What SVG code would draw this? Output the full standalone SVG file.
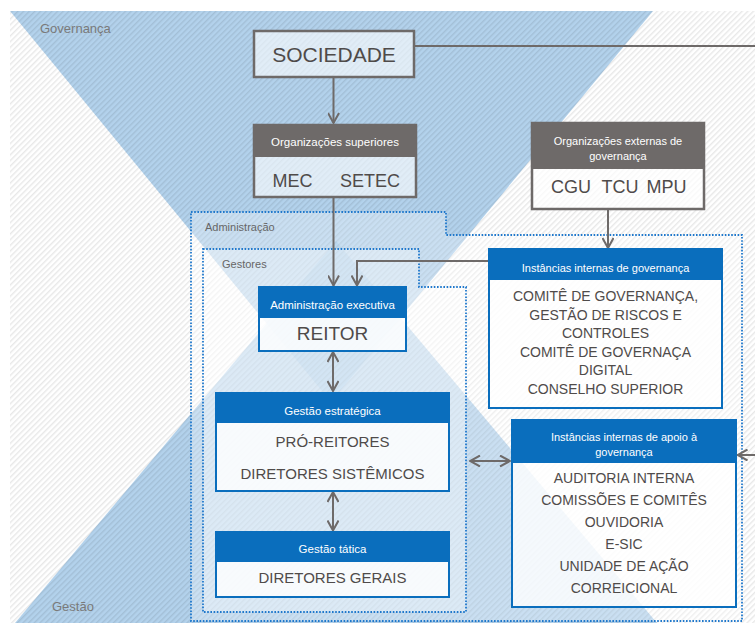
<svg xmlns="http://www.w3.org/2000/svg" width="755" height="623" viewBox="0 0 755 623">
<style>
text{font-family:"Liberation Sans",Arial,sans-serif}
.lbl{fill:#666;font-size:11px}
.big{fill:#7a7a7a;font-size:13px}
.hd{fill:#fff;font-size:11.5px;text-anchor:middle}
.hs{fill:#fff;font-size:11px;text-anchor:middle}
.bd{fill:#4f4b4a;text-anchor:middle}
.gbox{stroke:#6e6a69;stroke-width:2.5}
.bbox{stroke:#0a6ebd;stroke-width:2}
.ghead{fill:#6e6a69}
.bhead{fill:#0a6ebd}
.body{fill:#fff;fill-opacity:.8}
.dot{fill:#fff;stroke:#1f78cc;stroke-width:1.8;stroke-dasharray:1.6 1.6}
.con{fill:none;stroke:#6e6a69;stroke-width:2}
</style>
<defs>
<pattern id="hatch" width="4" height="4" patternUnits="userSpaceOnUse" patternTransform="rotate(45)">
<rect x="0" y="0" width="1.4" height="4" fill="#000" fill-opacity=".09"/>
</pattern>
<marker id="ah" viewBox="0 0 12 12" refX="11" refY="6" markerWidth="12" markerHeight="12" markerUnits="userSpaceOnUse" orient="auto-start-reverse">
<path d="M1,0.5 L11,6 L1,11.5" fill="none" stroke="#6e6a69" stroke-width="2"/>
</marker>
</defs>

<g id="background">
<rect x="0" y="0" width="755" height="623" fill="#fff"/>
<rect x="10" y="11" width="745" height="612" fill="#fff"/>
<polygon points="10,11 653,11 331,402" fill="#9ac3e5" fill-opacity=".75"/>
<polygon points="15,623 657,623 336,241" fill="#9ac3e5" fill-opacity=".75"/>
<rect x="10" y="11" width="745" height="612" fill="url(#hatch)"/>
<text class="big" x="40" y="32.5">Governança</text>
<text class="big" x="52" y="611">Gestão</text>
</g>

<g id="administracao">
<path class="dot" fill-opacity=".3" d="M191,212 H446 V235 H742 V621 H191 Z"/>
<text class="lbl" x="205" y="231">Administração</text>
</g>

<g id="gestores">
<path class="dot" fill-opacity=".35" d="M203,249 H419 V287 H466 V612 H203 Z"/>
<text class="lbl" x="222" y="268">Gestores</text>
</g>

<g id="connectors">
<path class="con" d="M333.5,77 V123" marker-end="url(#ah)"/>
<path class="con" d="M414,46 H762 V455 H737.5" marker-end="url(#ah)"/>
<path class="con" d="M333.5,197 V285.5" marker-end="url(#ah)"/>
<path class="con" d="M608,209 V248" marker-end="url(#ah)"/>
<path class="con" d="M489,261 H357 V285.5" marker-end="url(#ah)"/>
<path class="con" d="M333,352 V391" marker-start="url(#ah)" marker-end="url(#ah)"/>
<path class="con" d="M333,492 V530.5" marker-start="url(#ah)" marker-end="url(#ah)"/>
<path class="con" d="M470,461 H510" marker-start="url(#ah)" marker-end="url(#ah)"/>
</g>

<g id="sociedade">
<rect class="gbox" x="254" y="31" width="160" height="46" fill="#fff" fill-opacity=".6"/>
<text class="bd" x="334" y="61.5" font-size="21">SOCIEDADE</text>
</g>

<g id="org-superiores">
<rect class="gbox" x="254" y="125" width="162" height="72" fill="#fff" fill-opacity=".6"/>
<rect class="ghead" x="254" y="125" width="162" height="32"/>
<text class="hd" x="335" y="146">Organizações superiores</text>
<text class="bd" x="292.5" y="186.5" font-size="18">MEC</text>
<text class="bd" x="370" y="186.5" font-size="18">SETEC</text>
</g>

<g id="org-externas">
<rect class="gbox" x="532" y="123" width="172" height="86" fill="#fff" fill-opacity=".7"/>
<rect class="ghead" x="532" y="123" width="172" height="46"/>
<text class="hs" x="618" y="145">Organizações externas de</text>
<text class="hs" x="618" y="160">governança</text>
<text class="bd" x="571" y="193" font-size="18">CGU</text>
<text class="bd" x="620" y="193" font-size="18">TCU</text>
<text class="bd" x="666.5" y="193" font-size="18">MPU</text>
</g>

<g id="instancias-governanca">
<rect class="bbox body" x="489" y="249" width="233" height="159"/>
<rect class="bhead" x="489" y="249" width="233" height="31"/>
<text class="hs" x="605.5" y="271.5">Instâncias internas de governança</text>
<g class="bd" font-size="14">
<text x="605.5" y="301">COMITÊ DE GOVERNANÇA,</text>
<text x="605.5" y="319.5">GESTÃO DE RISCOS E</text>
<text x="605.5" y="338">CONTROLES</text>
<text x="605.5" y="356.5">COMITÊ DE GOVERNAÇA</text>
<text x="605.5" y="375">DIGITAL</text>
<text x="605.5" y="393.5">CONSELHO SUPERIOR</text>
</g>
</g>

<g id="administracao-executiva">
<rect class="bbox body" x="259" y="287" width="147" height="64"/>
<rect class="bhead" x="259" y="287" width="147" height="31"/>
<text class="hd" x="332.5" y="309">Administração executiva</text>
<text class="bd" x="332.5" y="340" font-size="19">REITOR</text>
</g>

<g id="gestao-estrategica">
<rect class="bbox body" x="216" y="393" width="233" height="98"/>
<rect class="bhead" x="216" y="393" width="233" height="30"/>
<text class="hd" x="332.5" y="414.5">Gestão estratégica</text>
<text class="bd" x="332.5" y="447" font-size="15">PRÓ-REITORES</text>
<text class="bd" x="332.5" y="478.5" font-size="15">DIRETORES SISTÊMICOS</text>
</g>

<g id="gestao-tatica">
<rect class="bbox body" x="216" y="532" width="233" height="65"/>
<rect class="bhead" x="216" y="532" width="233" height="30"/>
<text class="hd" x="332.5" y="553">Gestão tática</text>
<text class="bd" x="332.5" y="582.5" font-size="15">DIRETORES GERAIS</text>
</g>

<g id="instancias-apoio">
<rect class="bbox body" x="512" y="420" width="224" height="187"/>
<rect class="bhead" x="512" y="420" width="224" height="43"/>
<text class="hs" x="624" y="441">Instâncias internas de apoio à</text>
<text class="hs" x="624" y="455.5">governança</text>
<g class="bd" font-size="14">
<text x="624" y="483.3">AUDITORIA INTERNA</text>
<text x="624" y="505">COMISSÕES E COMITÊS</text>
<text x="624" y="526.7">OUVIDORIA</text>
<text x="624" y="549">E-SIC</text>
<text x="624" y="570.7">UNIDADE DE AÇÃO</text>
<text x="624" y="592.7">CORREICIONAL</text>
</g>
</g>
</svg>
